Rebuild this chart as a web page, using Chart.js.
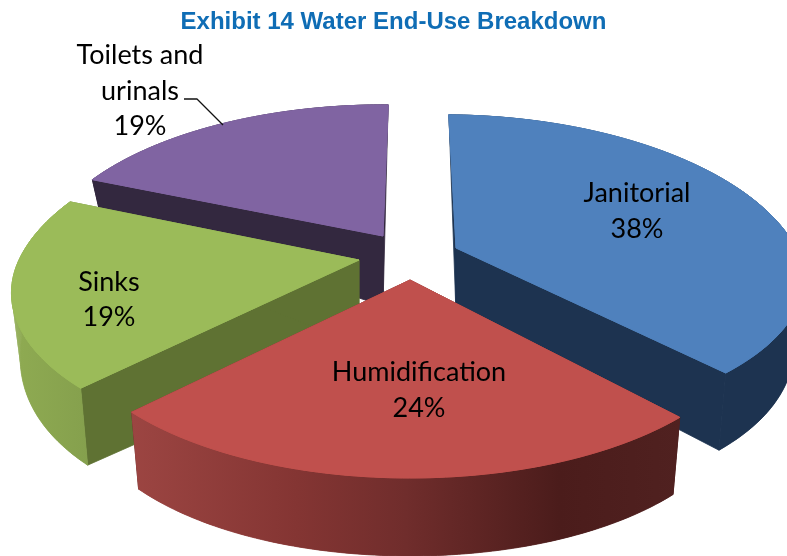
<!DOCTYPE html>
<html>
<head>
<meta charset="utf-8">
<style>html,body{margin:0;padding:0;background:#fff}#wrap{width:787px;height:556px;overflow:hidden}</style>
<script src="https://cdn.jsdelivr.net/npm/chart.js@4"></script>
</head>
<body>
<div id="wrap"><canvas id="c" width="787" height="556"></canvas></div>
<script>
const categories = ["Janitorial", "Humidification", "Sinks", "Toilets and urinals"];
const shares = [38, 24, 19, 19];
const topColors = ["#4f81bd", "#c0504d", "#9bbb59", "#8064a2"];
const wallColors = ["#1d3350", "#4e1f1e", "#5f7233", "#33283f"];

// Layout of the exploded 3-D pie
const apex = [[456, 248], [410, 280], [359, 260], [383, 236]];
const apexDepth = [66, 80, 85, 70];
const frontScale = [0.91, 1, 0.97, 1];
const rimStops = [
  [[0, "#1d3350"], [1, "#1d3350"]],
  [[0, "#9c4542"], [0.3, "#843533"], [0.5, "#702d2c"], [0.78, "#4b1c1b"], [1, "#502120"]],
  [[0, "#8fab52"], [1, "#85a04d"]],
  [[0, "#33283f"], [1, "#33283f"]]
];
const drawOrder = [3, 2, 0, 1];
const RX = 340, RY = 157, P = 0.207, SHRINK = 0.975, TURN = Math.PI / 180;
const VX = 385, VY = 230;
const labelLines = [
  [["Janitorial", 637, 193], ["38%", 637, 229]],
  [["Humidification", 419, 372], ["24%", 419, 408]],
  [["Sinks", 109, 282], ["19%", 109, 317]],
  [["Toilets and", 140, 55], ["urinals", 140, 91], ["19%", 140, 126]]
];

function rimPoint(i, a0) {
  const a = a0 + TURN, u = Math.cos(a), t = Math.sin(a), s = 1 / (1 - P * t);
  let x = apex[i][0] + RX * u * s;
  let y = apex[i][1] + RY * t * s * (t > 0 ? frontScale[i] : 1);
  if (t < 0) {
    x += (apex[i][0] - VX) * (s - 1);
    y += (apex[i][1] - VY) * (s - 1);
  }
  return [x, y];
}
function rimBottom(i, a0) {
  const t = Math.sin(a0 + TURN), p = rimPoint(i, a0);
  const d = Math.max(0, 55 + 50 * t - 27 * t * t);
  return [apex[i][0] + (p[0] - apex[i][0]) * SHRINK, p[1] + d];
}
function arcPts(fn, i, a0, a1) {
  const n = 90, out = [];
  for (let k = 0; k <= n; k++) out.push(fn(i, a0 + (a1 - a0) * k / n));
  return out;
}
function poly(ctx, pts, fill, edge) {
  ctx.beginPath();
  pts.forEach((p, k) => k ? ctx.lineTo(p[0], p[1]) : ctx.moveTo(p[0], p[1]));
  ctx.closePath();
  ctx.fillStyle = fill;
  ctx.fill();
  if (edge) {
    ctx.strokeStyle = fill;
    ctx.lineWidth = 0.8;
    ctx.lineJoin = "round";
    ctx.stroke();
  }
}

const pie3d = {
  id: "pie3d",
  beforeDatasetDraw(chart) {
    const ctx = chart.ctx, arcs = chart.getDatasetMeta(0).data;
    ctx.save();
    drawOrder.forEach(i => {
      const a0 = arcs[i].startAngle, a1 = arcs[i].endAngle;
      const c = apex[i], cb = [c[0], c[1] + apexDepth[i]];
      [a0, a1].forEach(a => {
        poly(ctx, [c, rimPoint(i, a), rimBottom(i, a), cb], wallColors[i], true);
      });
      const topArc = arcPts(rimPoint, i, a0, a1);
      const bot = arcPts(rimBottom, i, a0, a1);
      const botArc = bot.slice().reverse();
      const xs = topArc.concat(bot).map(p => p[0]);
      const g = ctx.createLinearGradient(Math.min(...xs), 0, Math.max(...xs), 0);
      rimStops[i].forEach(s => g.addColorStop(s[0], s[1]));
      poly(ctx, topArc.concat(botArc), g, true);
      // sweep so that the outline follows the silhouette where the rim turns away
      for (let k = 0; k < topArc.length - 1; k++) {
        poly(ctx, [topArc[k], topArc[k + 1], bot[k + 1], bot[k]], g, false);
      }
      poly(ctx, [c].concat(topArc), topColors[i], true);
      poly(ctx, [c].concat(topArc), topColors[i], true);
    });
    ctx.beginPath();
    ctx.moveTo(184, 99); ctx.lineTo(197, 99); ctx.lineTo(223, 125);
    ctx.strokeStyle = "#111"; ctx.lineWidth = 1.3; ctx.stroke();
    ctx.fillStyle = "#000";
    ctx.font = '27px Lato, "Open Sans", sans-serif';
    ctx.textAlign = "center";
    ctx.textBaseline = "middle";
    labelLines.forEach(l => l.forEach(r => ctx.fillText(r[0], r[1], r[2])));
    ctx.restore();
    return false;
  }
};

new Chart(document.getElementById("c"), {
  type: "pie",
  data: {
    labels: categories,
    datasets: [{ data: shares, backgroundColor: topColors, borderWidth: 0 }]
  },
  options: {
    responsive: false,
    animation: false,
    layout: { padding: 0 },
    plugins: {
      legend: { display: false },
      tooltip: { enabled: false },
      title: {
        display: true,
        text: "Exhibit 14 Water End-Use Breakdown",
        color: "#0f6db5",
        font: { family: '"Liberation Sans", Arial, sans-serif', size: 24, weight: "bold" },
        padding: { top: 8, bottom: 4 }
      }
    }
  },
  plugins: [pie3d]
});
</script>
</body>
</html>
